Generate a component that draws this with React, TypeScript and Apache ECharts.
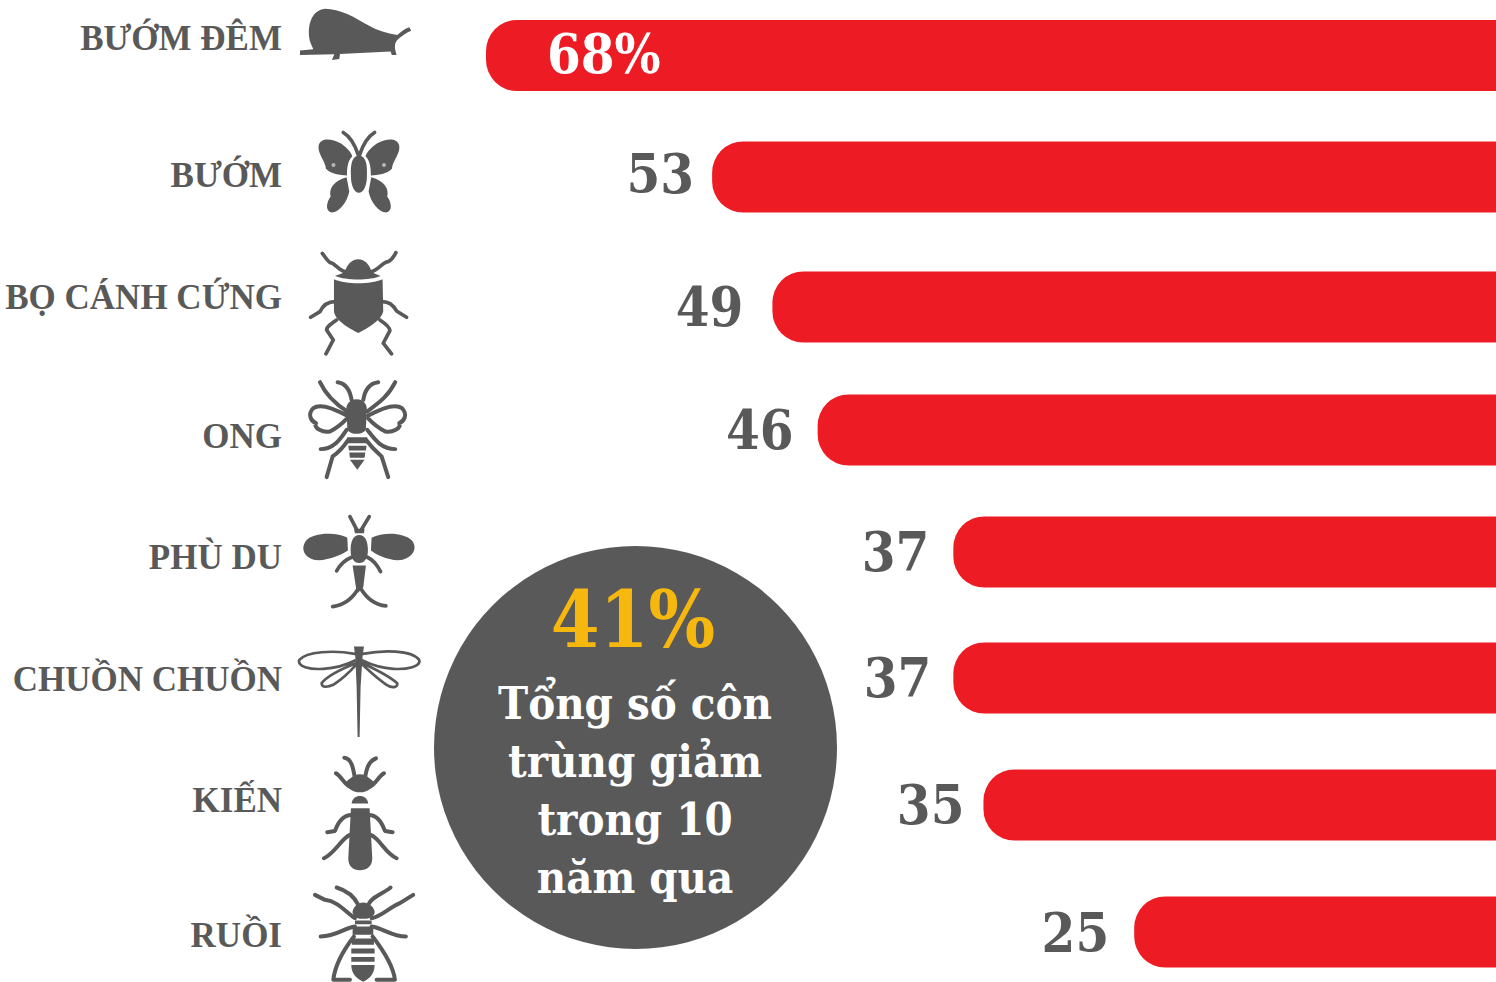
import React, { useEffect, useRef } from "react";
import * as echarts from "echarts";

const categories = ["BƯỚM ĐÊM", "BƯỚM", "BỌ CÁNH CỨNG", "ONG", "PHÙ DU", "CHUỒN CHUỒN", "KIẾN", "RUỒI"];
const declinePercent = [68, 53, 49, 46, 37, 37, 35, 25];
const summaryValue = "41%";
const summaryLines = ["Tổng số côn", "trùng giảm", "trong 10", "năm qua"];

// layout only
const rowCenters = [55.5, 177, 307, 430, 552, 678, 805, 932];
const labelCenters = [38, 175, 297, 436, 557, 679, 800, 935];
const valueGaps = [61, 18, 29, 24, 24, 22, 19, 25];
const valueShifts = [-2, -3, 0, 0, 0, 0, 0, 1];
const RED = "#ed1c24";
const GREY = "#595959";
const LABEL_FONT = "'Liberation Serif'";
const NUM_FONT = "'DejaVu Serif Condensed','DejaVu Serif'";

type Icon = { name: string; x: number; y: number; fill: string; line: string; lw?: number };
const icons: Icon[] = [
  { name: "moth", x: 290, y: 0, fill: "M62 130 C48 85 62 30 105 26 C150 26 195 52 235 76 C265 93 290 100 322 105 C335 95 345 85 358 82 L364 92 C350 97 338 107 325 117 C315 127 314 137 316 150 L320 165 L306 165 L302 155 L150 162 L148 177 L126 180 L133 163 L30 165 L30 152 L70 148 Z", line: "" },
  { name: "butterfly", x: 290, y: 0, fill: "M86 437 C92 412 125 416 152 430 C172 443 187 462 187 470 C176 480 171 497 171 527 C150 527 122 522 108 507 C106 482 82 462 86 437Z M328 437 C322 412 289 416 262 430 C242 443 227 462 227 470 C238 480 243 497 243 527 C264 527 292 522 306 507 C308 482 332 462 328 437Z M170 532 L178 575 C172 605 150 637 125 638 C106 634 108 610 122 590 C116 568 130 542 170 532Z M244 532 L236 575 C242 605 264 637 289 638 C308 634 306 610 292 590 C298 568 284 542 244 532Z M207 468 C226 468 233 490 231 530 C231 556 221 579 207 579 C193 579 183 556 183 530 C181 490 188 468 207 468Z", line: "M205 465 C195 435 180 410 160 398 M209 465 C219 435 234 410 254 398" },
  { name: "beetle", x: 290, y: 240, fill: "M205 58 C225 58 240 75 245 97 L272 108 C240 122 170 122 135 108 L165 97 C170 75 185 58 205 58Z M132 118 C170 134 240 134 278 118 L280 215 C275 240 235 265 205 279 C175 265 135 240 132 215Z", line: "M165 95 C145 90 130 65 120 68 C110 60 105 50 97 40 M245 95 C265 90 280 65 295 65 C305 60 312 50 318 38 M135 185 C115 185 100 195 90 215 L62 232 M277 185 C295 185 310 195 320 213 L350 232 M140 240 C125 250 110 260 110 270 L130 300 L108 342 M270 240 C285 250 300 262 300 272 L280 310 L305 342" },
  { name: "bee", x: 290, y: 240, fill: "M200 478 C222 478 234 495 230 515 L228 565 C228 575 215 582 200 582 C185 582 172 575 172 565 L170 515 C166 495 178 478 200 478Z M172 592 L232 592 L232 610 L172 610Z M175 618 L230 618 L228 632 L177 632Z M178 638 L226 638 L224 654 L180 654Z M180 660 L224 660 L202 690Z", line: "M172 528 C130 505 90 490 70 505 C50 525 65 545 78 550 C70 565 100 580 120 575 C140 565 160 548 172 535 M234 528 C276 505 316 490 336 505 C356 525 341 545 328 550 C336 565 306 580 286 575 C266 565 246 548 234 535 M185 480 C180 450 165 430 143 427 M220 480 C225 450 240 430 265 427 M172 515 C140 495 110 470 90 427 M232 515 C265 490 295 470 316 427 M170 570 C150 600 130 628 92 628 M232 570 C255 600 275 628 316 628 M175 600 C155 630 135 645 128 650 L110 712 M228 600 C250 630 270 645 275 650 L295 712", lw: 12 },
  { name: "mayfly", x: 290, y: 500, fill: "M172 113 C140 96 70 96 48 122 C28 150 48 178 85 181 C120 181 160 162 174 152Z M245 113 C280 96 340 96 367 122 C387 150 362 178 325 181 C290 181 255 162 243 152Z M208 105 C226 105 234 125 234 150 C234 175 224 189 208 189 C192 189 182 175 182 150 C182 125 190 105 208 105Z M192 86 L224 86 L222 100 L195 100Z M188 197 L228 197 L220 262 L205 278 L198 262Z", line: "M200 88 L180 50 M215 88 L238 50 M208 260 C190 295 165 315 128 320 M212 265 C230 295 255 315 288 318 M185 172 C165 180 150 195 140 213 M232 172 C250 180 262 195 272 215" },
  { name: "dragonfly", x: 290, y: 500, fill: "M192 440 L222 440 L218 470 L196 470Z M196 470 L218 470 L212 560 L209 712 L203 712 L200 560Z", line: "M195 462 C130 450 50 455 28 480 C20 500 60 510 100 507 C135 505 170 495 195 482 M218 462 C280 450 365 450 388 480 C395 500 350 510 310 507 C275 505 245 495 218 482 M198 490 C160 505 110 530 95 550 C95 565 115 562 130 555 C160 535 185 510 198 495 M218 490 C250 505 300 530 322 550 C325 565 305 565 290 555 C260 535 235 510 218 495", lw: 8 },
  { name: "ant", x: 300, y: 745, fill: "M180 88 C202 88 208 103 226 113 C218 127 205 142 180 142 C155 142 142 127 134 113 C152 103 158 88 180 88Z M155 176 C158 146 202 146 205 176Z M153 190 L209 190 L217 340 C217 365 200 376 180 376 C160 376 145 365 145 340Z", line: "M165 100 C160 70 155 40 133 38 M195 100 C200 70 205 50 228 40 M150 125 C135 120 125 95 108 85 M210 125 C225 120 235 95 252 85 M155 210 C130 210 115 230 105 258 L82 262 M207 210 C230 210 245 230 255 258 L278 262 M150 270 C125 280 105 325 72 340 M212 270 C240 280 255 325 290 340", lw: 12 },
  { name: "fly", x: 300, y: 745, fill: "M190 473 C207 473 227 490 224 505 C217 520 200 522 190 522 C178 522 163 520 158 505 C156 490 173 473 190 473Z M165 527 L215 527 L215 538 L165 538Z M158 545 L220 545 L220 570 L158 570Z M156 581 L222 581 L222 600 L156 600Z M154 611 L224 611 L224 626 L154 626Z M154 637 L224 637 L224 651 L154 651Z M154 661 L224 661 C224 690 205 705 190 711 C175 705 154 690 154 661Z", line: "M162 575 C135 610 105 660 100 705 L150 705 M218 575 C245 610 280 660 285 705 L230 705 M175 480 C165 460 150 440 110 428 M205 480 C215 455 245 450 272 428 M165 520 C135 500 115 470 75 465 L45 450 M215 520 C245 515 265 490 300 475 L340 450 M165 545 C130 550 110 575 62 575 M215 545 C250 550 275 575 318 575", lw: 12 },
];

function iconGraphics() {
  const out: any[] = [];
  icons.forEach((ic) => {
    const common = { x: ic.x, y: ic.y, scaleX: 1 / 3, scaleY: 1 / 3, silent: true };
    echarts.graphic.registerShape(ic.name + "F", echarts.graphic.extendPath(ic.fill, {}) as any);
    out.push({ type: ic.name + "F", ...common, style: { fill: GREY } });
    if (ic.line) {
      echarts.graphic.registerShape(ic.name + "L", echarts.graphic.extendPath(ic.line, {}) as any);
      out.push({ type: ic.name + "L", ...common, style: { fill: "none", stroke: GREY, lineWidth: ic.lw ?? 11, lineCap: "round", lineJoin: "round" } });
    }
  });
  out.push({ type: "circle", shape: { cx: 333.5, cy: 165, r: 2 }, style: { fill: "#b5b5b5" }, silent: true });
  out.push({ type: "circle", shape: { cx: 384, cy: 165, r: 2 }, style: { fill: "#b5b5b5" }, silent: true });
  return out;
}

export default function App() {
  const ref = useRef<HTMLDivElement>(null);
  useEffect(() => {
    document.body.style.margin = "0";
    document.body.style.background = "#ffffff";
    const chart = echarts.init(ref.current!, null, { renderer: "svg" });
    const barHeight = 71;
    chart.setOption({
      animation: false,
      backgroundColor: "#ffffff",
      grid: rowCenters.map((c) => ({ left: 486, right: 0, top: c - barHeight / 2, height: barHeight, containLabel: false })),
      xAxis: rowCenters.map((_, i) => ({ gridIndex: i, type: "value", inverse: true, min: 1, max: 68, show: false })),
      yAxis: rowCenters.map((_, i) => ({ gridIndex: i, type: "category", data: [categories[i]], show: false })),
      series: declinePercent.map((v, i) => ({
        type: "bar",
        xAxisIndex: i,
        yAxisIndex: i,
        name: categories[i],
        data: [v],
        barWidth: barHeight,
        itemStyle: { color: RED, borderRadius: [31, 0, 0, 31] },
        label: {
          show: true,
          position: i === 0 ? "insideLeft" : "left",
          distance: valueGaps[i],
          offset: [0, valueShifts[i]],
          formatter: i === 0 ? `${v}%` : `${v}`,
          color: i === 0 ? "#ffffff" : GREY,
          fontFamily: NUM_FONT,
          fontWeight: "bold",
          fontSize: 54,
        },
      })),
      graphic: [
        ...categories.map((t, i) => ({
          type: "text",
          x: 282,
          y: labelCenters[i],
          silent: true,
          style: { text: t, textAlign: "right", textVerticalAlign: "middle", fill: GREY, fontFamily: LABEL_FONT, fontWeight: "bold", fontSize: 35 },
        })),
        ...iconGraphics(),
        { type: "circle", shape: { cx: 635.5, cy: 747.5, r: 201.5 }, style: { fill: GREY }, silent: true },
        {
          type: "text", x: 633, y: 619, silent: true,
          style: { text: summaryValue, textAlign: "center", textVerticalAlign: "middle", fill: "#f6b70f", fontFamily: NUM_FONT, fontWeight: "bold", fontSize: 78 },
        },
        ...summaryLines.map((t, i) => ({
          type: "text", x: 635, y: 703 + i * 58, silent: true,
          style: { text: t, textAlign: "center", textVerticalAlign: "middle", fill: "#ffffff", fontFamily: NUM_FONT, fontWeight: "bold", fontSize: 45 },
        })),
      ],
    });
    return () => chart.dispose();
  }, []);
  return <div ref={ref} style={{ width: 1496, height: 982 }} />;
}
